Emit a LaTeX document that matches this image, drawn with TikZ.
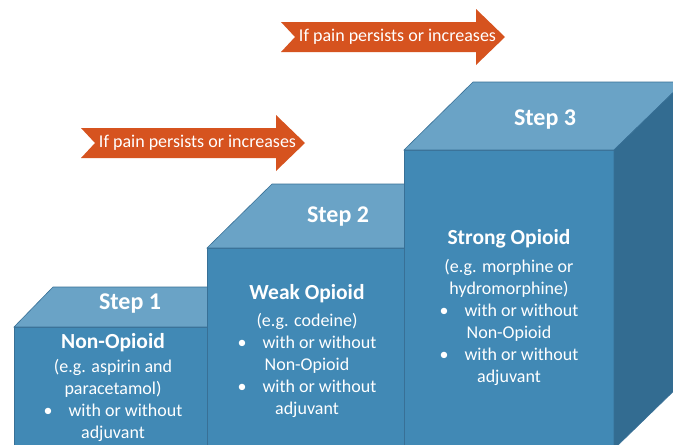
\documentclass[tikz,border=0pt]{standalone}
\usepackage{fontspec}
\setmainfont{Carlito}
\usetikzlibrary{positioning}
\definecolor{frontblue}{RGB}{65,137,181}
\definecolor{topblue}{RGB}{106,163,198}
\definecolor{sideblue}{RGB}{51,108,145}
\definecolor{edgeblue}{RGB}{56,112,150}
\definecolor{painorange}{RGB}{214,83,31}
\tikzset{
  front face/.style={fill=frontblue,draw=edgeblue,line width=.6pt},
  top face/.style={fill=topblue,draw=edgeblue,line width=.6pt},
  side face/.style={fill=sideblue,draw=edgeblue,line width=.6pt},
  step label/.style={text=white,inner sep=0pt,font=\bfseries\fontsize{24}{28}\selectfont},
  drug label/.style={text=white,inner sep=0pt,font=\bfseries\fontsize{21.5}{26}\selectfont},
  drug text/.style={text=white,inner sep=0pt,align=center,font=\fontsize{18}{22}\selectfont},
  pain arrow/.style={fill=painorange,draw=none},
  pain text/.style={text=white,inner sep=0pt,font=\fontsize{18}{22}\selectfont}
}
\newcommand{\wob}{\textbullet\hspace{16pt}with or without}

\begin{document}
\begin{tikzpicture}[x=1pt,y=-1pt]
\clip(0,0)rectangle(673,445);
\fill[white](0,0)rectangle(673,445);
%step 1 block
\draw[front face](14,327)rectangle(230,450);
\draw[top face](14,327)--(53,287)--(269,287)--(230,327)--cycle;
%step 2 block
\draw[front face](207,248)rectangle(420,450);
\draw[top face](207,248)--(272,184)--(485,184)--(420,248)--cycle;
%step 3 block
\draw[front face](404,150)rectangle(614,450);
\draw[top face](404,150)--(473,82)--(684,82)--(614,150)--cycle;
\draw[side face](614,150)--(684,82)--(684,381)--(614,449)--cycle;
%escalation arrows
\foreach \dx/\dy/\nm in {0/0/one,200/-106/two}{
\begin{scope}[shift={(\dx,\dy)}]
\fill[pain arrow](81,128)--(276,128)--(276,115)--(305,143)--(276,171)--(276,158)--(81,158)--(95,143)--cycle;
\node[pain text](pain\nm)at(197.5,143){If pain persists or increases};
\end{scope}
}
%step labels
\node[step label](step1)at(130,304){Step 1};
\node[step label](step2)at(338,217){Step 2};
\node[step label](step3)at(545,120){Step 3};
%drug names
\node[drug label](nonopioid)at(113,343){Non-Opioid};
\node[drug label](weakopioid)at(307,294){Weak Opioid};
\node[drug label](strongopioid)at(509,239){Strong Opioid};
%examples and adjuvants
\node[drug text](nonopioidtxt)at(113,400){(e.g. aspirin and\\paracetamol)\\\wob\\adjuvant};
\node[drug text](weakopioidtxt)at(307,365){(e.g. codeine)\\\wob\\Non-Opioid\\\wob\\adjuvant};
\node[drug text](strongopioidtxt)at(509,322){(e.g. morphine or\\hydromorphine)\\\wob\\Non-Opioid\\\wob\\adjuvant};
\end{tikzpicture}
\end{document}
